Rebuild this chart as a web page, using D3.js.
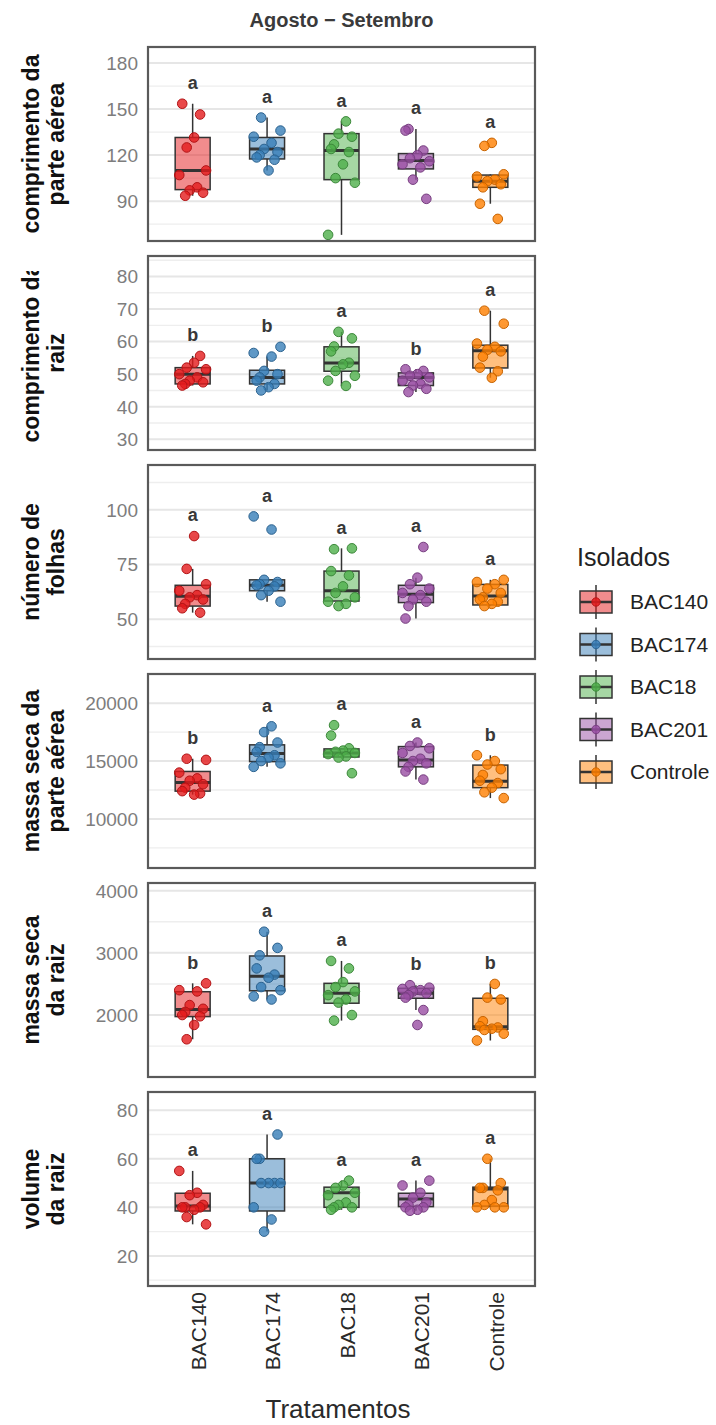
<!DOCTYPE html>
<html>
<head>
<meta charset="utf-8">
<script src="https://cdn.jsdelivr.net/npm/d3@7"></script>
<style>
  body { margin: 0; background: #fff; }
  svg { display: block; }
</style>
</head>
<body>
<svg id="chart" width="716" height="1425"></svg>
<script>
// tratamentos / isolados
const treatments = ['BAC140', 'BAC174', 'BAC18', 'BAC201', 'Controle'];
const isoladoColors = ['#E41A1C', '#377EB8', '#4DAF4A', '#984EA3', '#FF7F00'];

// titulos dos eixos y (duas linhas)
const varLabels = [
  ['comprimento da', 'parte aérea'],
  ['comprimento da', 'raiz'],
  ['número de', 'folhas'],
  ['massa seca da', 'parte aérea'],
  ['massa seca', 'da raiz'],
  ['volume', 'da raiz']
];

const yTicks = [
  [90, 120, 150, 180],
  [30, 40, 50, 60, 70, 80],
  [50, 75, 100],
  [10000, 15000, 20000],
  [2000, 3000, 4000],
  [20, 40, 60, 80]
];
const yDomains = [
  [64, 190.5],
  [26.7, 86.3],
  [31.8, 120.5],
  [5760, 22520],
  [1003, 4124],
  [7.6, 87.5]
];

// letras (teste de medias)
const letters = [
  ['a', 'a', 'a', 'a', 'a'],
  ['b', 'b', 'a', 'b', 'a'],
  ['a', 'a', 'a', 'a', 'a'],
  ['b', 'a', 'a', 'a', 'b'],
  ['b', 'a', 'a', 'b', 'b'],
  ['a', 'a', 'a', 'a', 'a']
];

// pontos observados por tratamento
const compParteAereaPts = [
  [153.5, 146.5, 131.5, 125, 110, 107, 99, 97, 95.5, 93.5],
  [144.5, 136, 132, 128, 124, 122, 120, 118.5, 117, 110],
  [142, 134, 132, 127, 124, 122, 114, 105, 102, 68],
  [137, 136, 123, 120, 118, 116, 114, 112, 104, 91.5],
  [128, 126, 107.5, 106, 104, 103, 101, 99, 88.3, 78.4]
];
const compRaizPts = [
  [55.6, 53.5, 52, 51.5, 50, 49, 48, 47.5, 47, 46.5],
  [58.4, 56.5, 55.4, 51, 50, 49, 48, 47, 46, 45],
  [63, 61, 58.5, 57, 53.5, 53, 51, 49.5, 48, 46.4],
  [51.5, 51, 50, 49.5, 49, 48, 47, 46.5, 45.5, 44.5],
  [69.5, 65.5, 59.4, 58.4, 57.5, 57, 55.4, 52, 50.9, 48.9]
];
const numFolhasPts = [
  [88, 73, 66, 63, 61, 60, 59, 57, 55, 53],
  [97, 91, 68, 67, 66, 65.5, 65, 63, 61, 58],
  [82.4, 82, 72, 70, 65, 62, 60, 58, 57, 56],
  [83, 69, 66, 64, 62, 61, 59, 58, 56, 50.3],
  [68, 67, 66, 64, 62, 60, 59, 58, 57, 56]
];
const massaParteAereaPts = [
  [15200, 15100, 14000, 13500, 13300, 13000, 12700, 12400, 12200, 12100],
  [18000, 17500, 16600, 16200, 15800, 15500, 15300, 15000, 14800, 14500],
  [18100, 17200, 16100, 15900, 15800, 15700, 15600, 15400, 15300, 13950],
  [16600, 16300, 16100, 15700, 15200, 15000, 14800, 14500, 14100, 13400],
  [15500, 15000, 14700, 14300, 13800, 13300, 13100, 12700, 12300, 11800]
];
const massaRaizPts = [
  [2510, 2400, 2380, 2160, 2100, 2050, 2000, 1980, 1840, 1610],
  [3340, 3080, 2960, 2750, 2650, 2600, 2450, 2400, 2300, 2250],
  [2870, 2750, 2530, 2450, 2380, 2320, 2250, 2200, 2000, 1910],
  [2480, 2440, 2420, 2400, 2380, 2350, 2320, 2280, 2080, 1840],
  [2500, 2280, 2250, 1900, 1820, 1800, 1780, 1760, 1700, 1590]
];
const volumeRaizPts = [
  [55, 46, 45, 41, 40, 40, 40, 39, 36, 33],
  [70, 60, 60, 50, 50, 50, 50, 40, 35, 30],
  [51, 49, 48, 46, 45, 42, 41, 40, 40, 39],
  [51, 49, 46, 44, 42, 41, 40, 40, 39, 38.6],
  [60, 50, 48, 48, 47, 43, 41, 40, 40, 40]
];

// resumo dos boxplots: [min, q1, mediana, q3, max]
const compParteAereaBox = [
  [93.5, 97.5, 110, 131.5, 153.5],
  [110, 117.5, 124, 131.5, 144.5],
  [68, 104, 123, 134, 142],
  [104, 111, 116.5, 121, 137],
  [88.3, 99, 103, 107, 107.5]
];
const compRaizBox = [
  [46.5, 47, 50, 52, 55.6],
  [45, 47, 49, 51.2, 55.4],
  [46.4, 50.9, 53.4, 58.4, 63],
  [44.5, 46.5, 49, 50.4, 51.5],
  [48.9, 51.9, 57.2, 58.9, 69.5]
];
const numFolhasBox = [
  [53, 56, 60.5, 65.5, 73],
  [58, 63, 65.5, 68, 68],
  [56, 58.3, 63, 72, 82.4],
  [50.3, 57.6, 61.4, 65.5, 69],
  [56, 56.5, 60.6, 65.9, 68]
];
const massaParteAereaBox = [
  [12100, 12400, 13150, 14100, 15200],
  [14500, 14950, 15650, 16400, 18000],
  [15300, 15350, 15700, 16050, 16100],
  [13400, 14500, 15100, 16250, 16600],
  [11800, 12700, 13250, 14650, 15500]
];
const massaRaizBox = [
  [1610, 1975, 2090, 2375, 2510],
  [2250, 2390, 2625, 2950, 3340],
  [1910, 2190, 2350, 2510, 2870],
  [2080, 2270, 2350, 2430, 2480],
  [1590, 1770, 1810, 2270, 2500]
];
const volumeRaizBox = [
  [33, 38.5, 40.5, 45.8, 55],
  [30, 38.5, 50, 60, 70],
  [39, 40, 46, 48.3, 51],
  [38.6, 40.3, 43.4, 45.8, 51],
  [40, 40.5, 47.5, 48.3, 60]
];

const allPoints = [compParteAereaPts, compRaizPts, numFolhasPts, massaParteAereaPts, massaRaizPts, volumeRaizPts];
const allBoxes = [compParteAereaBox, compRaizBox, numFolhasBox, massaParteAereaBox, massaRaizBox, volumeRaizBox];

// layout
const FONT = '"Liberation Sans", Arial, Helvetica, sans-serif';
const plotLeft = 148, plotRight = 535;
const panelTop0 = 47, panelH = 194, panelStep = 209;
const jitterPattern = [-0.7, 0.5, 0.1, -0.4, 0.9, -0.9, 0.3, -0.2, 0.7, -0.5];

const svg = d3.select('#chart');
svg.append('rect').attr('width', 716).attr('height', 1425).attr('fill', '#fff');

const x = d3.scalePoint()
  .domain(treatments)
  .range([plotLeft, plotRight])
  .padding(0.6);
const step = x.step();
const boxW = step * 0.47;
const color = d3.scaleOrdinal().domain(treatments).range(isoladoColors);

// titulo da faceta
svg.append('text')
  .attr('x', (plotLeft + plotRight) / 2)
  .attr('y', 27)
  .attr('text-anchor', 'middle')
  .attr('font-family', FONT)
  .attr('font-size', 20)
  .attr('font-weight', 'bold')
  .attr('fill', '#3a3a3a')
  .text('Agosto \u2212 Setembro');

const defs = svg.append('defs');

varLabels.forEach((label, p) => {
  const top = panelTop0 + p * panelStep;
  const bottom = top + panelH;
  const y = d3.scaleLinear().domain(yDomains[p]).range([bottom, top]);
  const g = svg.append('g');

  // grade: linhas menores entre as maiores
  const ticks = yTicks[p];
  const half = (ticks[1] - ticks[0]) / 2;
  const minors = [];
  for (let v = ticks[0] - half; v <= yDomains[p][1]; v += 2 * half) {
    if (v >= yDomains[p][0]) minors.push(v);
  }
  g.selectAll('.minor').data(minors).join('line')
    .attr('x1', plotLeft).attr('x2', plotRight)
    .attr('y1', d => y(d)).attr('y2', d => y(d))
    .attr('stroke', '#eeeeee').attr('stroke-width', 1.4);
  g.selectAll('.major').data(ticks).join('line')
    .attr('x1', plotLeft).attr('x2', plotRight)
    .attr('y1', d => y(d)).attr('y2', d => y(d))
    .attr('stroke', '#e6e6e6').attr('stroke-width', 2);

  // rotulos do eixo y
  g.selectAll('.tick').data(ticks).join('text')
    .attr('x', 138)
    .attr('y', d => y(d))
    .attr('dy', '0.36em')
    .attr('text-anchor', 'end')
    .attr('font-family', FONT)
    .attr('font-size', 19)
    .attr('fill', '#7d7d7d')
    .text(d => d);

  // titulo do eixo y (o do segundo painel aparece cortado no topo)
  const clipId = 'lab-clip-' + p;
  const clipTop = p === 1 ? 271 : top - 10;
  defs.append('clipPath').attr('id', clipId)
    .append('rect')
    .attr('x', 0).attr('width', 140)
    .attr('y', clipTop)
    .attr('height', bottom + 10 - clipTop);
  const yt = g.append('g')
    .attr('clip-path', `url(#${clipId})`)
    .append('text')
    .attr('transform', `translate(43.5,${(top + bottom) / 2}) rotate(-90)`)
    .attr('text-anchor', 'middle')
    .attr('font-family', FONT)
    .attr('font-size', 23)
    .attr('font-weight', 'bold')
    .attr('fill', '#111');
  label.forEach((line, i) => {
    yt.append('tspan')
      .attr('x', 0)
      .attr('y', i === 0 ? -12.5 : 12.5)
      .attr('dy', '0.35em')
      .text(line);
  });

  // boxplots
  const boxes = allBoxes[p];
  treatments.forEach((t, k) => {
    const [lo, q1, med, q3, hi] = boxes[k];
    const cx = x(t);
    const bg = g.append('g');
    bg.append('line')
      .attr('x1', cx).attr('x2', cx)
      .attr('y1', y(q3)).attr('y2', y(hi))
      .attr('stroke', '#333').attr('stroke-width', 1.5);
    bg.append('line')
      .attr('x1', cx).attr('x2', cx)
      .attr('y1', y(q1)).attr('y2', y(lo))
      .attr('stroke', '#333').attr('stroke-width', 1.5);
    bg.append('rect')
      .attr('x', cx - boxW / 2)
      .attr('y', y(q3))
      .attr('width', boxW)
      .attr('height', Math.max(1, y(q1) - y(q3)))
      .attr('fill', color(t))
      .attr('fill-opacity', 0.5)
      .attr('stroke', '#333')
      .attr('stroke-width', 1.5);
    bg.append('line')
      .attr('x1', cx - boxW / 2).attr('x2', cx + boxW / 2)
      .attr('y1', y(med)).attr('y2', y(med))
      .attr('stroke', '#333').attr('stroke-width', 3);
  });

  // pontos com jitter
  treatments.forEach((t, k) => {
    const pts = allPoints[p][k];
    g.append('g').selectAll('circle').data(pts).join('circle')
      .attr('cx', (d, i) => x(t) + jitterPattern[(i + k * 3 + p) % 10] * step * 0.2)
      .attr('cy', d => y(d))
      .attr('r', 4.8)
      .attr('fill', color(t))
      .attr('fill-opacity', 0.8)
      .attr('stroke', d3.color(color(t)).darker(0.7))
      .attr('stroke-width', 1);
  });

  // letras
  treatments.forEach((t, k) => {
    g.append('text')
      .attr('x', x(t))
      .attr('y', y(d3.max(allPoints[p][k])) - 21)
      .attr('dy', '0.35em')
      .attr('text-anchor', 'middle')
      .attr('font-family', FONT)
      .attr('font-size', 18)
      .attr('font-weight', 'bold')
      .attr('fill', '#383838')
      .text(letters[p][k]);
  });

  // borda do painel
  g.append('rect')
    .attr('x', plotLeft).attr('y', top)
    .attr('width', plotRight - plotLeft).attr('height', panelH)
    .attr('fill', 'none')
    .attr('stroke', '#5a5a5a')
    .attr('stroke-width', 2.2);
});

// eixo x
const lastBottom = panelTop0 + 5 * panelStep + panelH;
svg.append('g').selectAll('text').data(treatments).join('text')
  .attr('transform', d => `translate(${x(d) + 6},${lastBottom + 6}) rotate(-90)`)
  .attr('text-anchor', 'end')
  .attr('dy', '0.35em')
  .attr('font-family', FONT)
  .attr('font-size', 21)
  .attr('fill', '#2a2a2a')
  .text(d => d);

svg.append('text')
  .attr('x', 338)
  .attr('y', 1418)
  .attr('text-anchor', 'middle')
  .attr('font-family', FONT)
  .attr('font-size', 26)
  .attr('fill', '#2a2a2a')
  .text('Tratamentos');

// legenda
const legend = svg.append('g').attr('transform', 'translate(577,0)');
legend.append('text')
  .attr('x', 0).attr('y', 566)
  .attr('font-family', FONT)
  .attr('font-size', 25)
  .attr('fill', '#222')
  .text('Isolados');

const keyY = d3.scalePoint().domain(treatments).range([602, 772]);
const item = legend.selectAll('.item').data(treatments).join('g')
  .attr('transform', d => `translate(0,${keyY(d)})`);
item.append('line')
  .attr('x1', 19).attr('x2', 19).attr('y1', -17).attr('y2', 17)
  .attr('stroke', '#333').attr('stroke-width', 1.5);
item.append('rect')
  .attr('x', 3).attr('y', -11).attr('width', 32).attr('height', 22)
  .attr('fill', d => color(d)).attr('fill-opacity', 0.5)
  .attr('stroke', '#333').attr('stroke-width', 1.5);
item.append('line')
  .attr('x1', 3).attr('x2', 35).attr('y1', 0).attr('y2', 0)
  .attr('stroke', '#333').attr('stroke-width', 2.5);
item.append('circle')
  .attr('cx', 19).attr('cy', 0).attr('r', 4.2)
  .attr('fill', d => color(d)).attr('fill-opacity', 0.85)
  .attr('stroke', d => d3.color(color(d)).darker(0.6));
item.append('text')
  .attr('x', 53).attr('y', 0).attr('dy', '0.35em')
  .attr('font-family', FONT)
  .attr('font-size', 21)
  .attr('fill', '#222')
  .text(d => d);
</script>
</body>
</html>
